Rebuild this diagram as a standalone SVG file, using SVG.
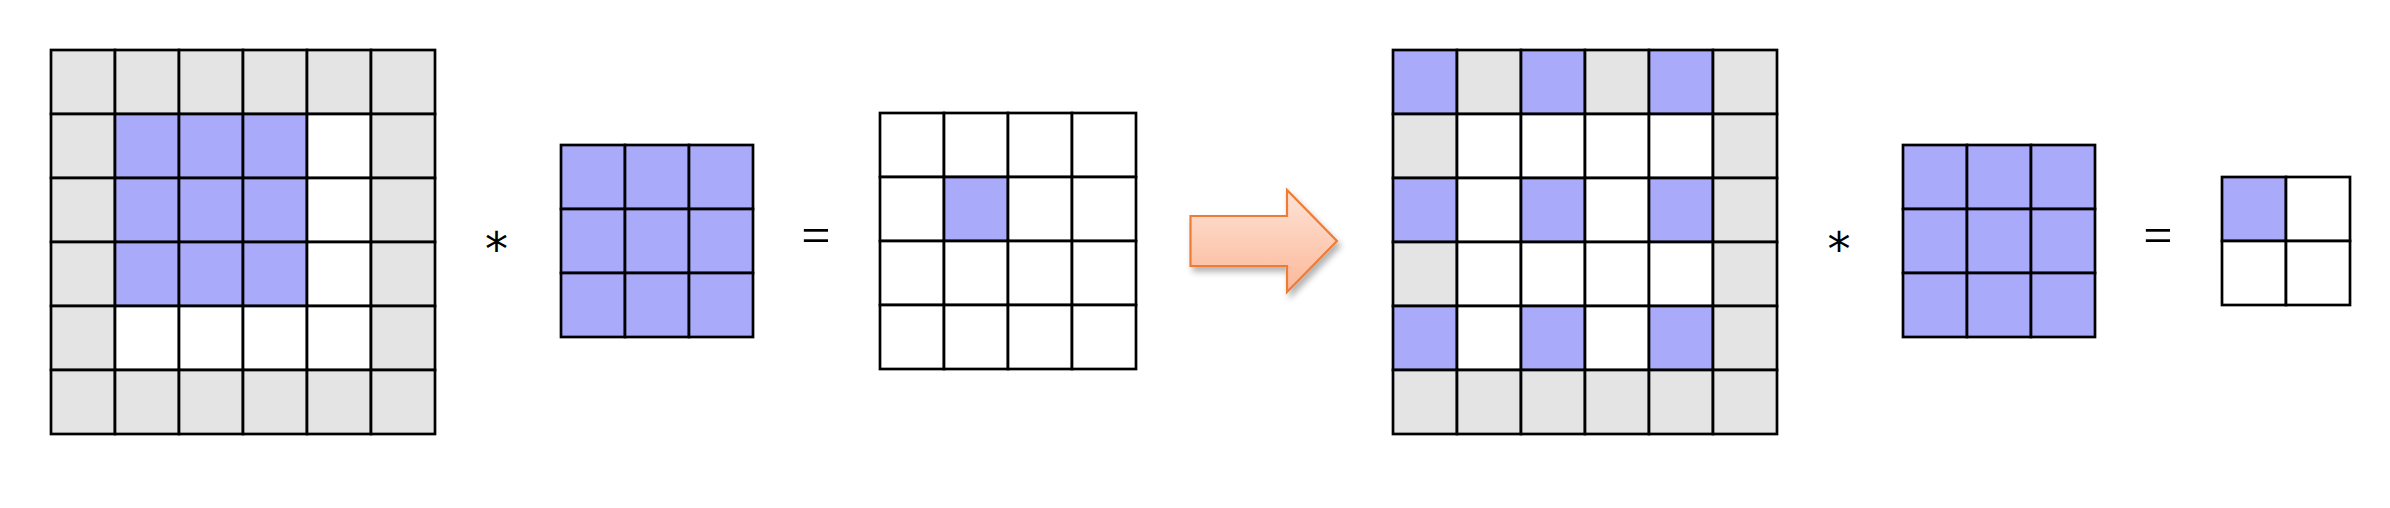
<svg xmlns="http://www.w3.org/2000/svg" width="2390" height="508" viewBox="0 0 2390 508">
<style>
rect{stroke:#000;stroke-width:2.7}
.g{fill:#e4e4e4}
.b{fill:#aaaafb}
.w{fill:#fff}
.mul{font-family:"DejaVu Sans",sans-serif;font-size:46px;fill:#000;text-anchor:middle}
.eq{font-family:"Liberation Serif",serif;font-size:52px;fill:#000;text-anchor:middle}
</style>
<defs>
<linearGradient id="ag" x1="0" y1="0" x2="0" y2="1">
<stop offset="0" stop-color="#fee3d6"/>
<stop offset="1" stop-color="#fbb899"/>
</linearGradient>
<filter id="sh" x="-20%" y="-20%" width="150%" height="150%">
<feGaussianBlur in="SourceAlpha" stdDeviation="3"/>
<feOffset dx="3" dy="5" result="o"/>
<feComponentTransfer><feFuncA type="linear" slope="0.3"/></feComponentTransfer>
<feMerge><feMergeNode/><feMergeNode in="SourceGraphic"/></feMerge>
</filter>
</defs>
<rect x="0" y="0" width="2390" height="508" style="fill:#fff;stroke:none"/>

<g id="input1" transform="translate(51,50)">
<rect class="g" x="0" y="0" width="64" height="64"/><rect class="g" x="64" y="0" width="64" height="64"/><rect class="g" x="128" y="0" width="64" height="64"/><rect class="g" x="192" y="0" width="64" height="64"/><rect class="g" x="256" y="0" width="64" height="64"/><rect class="g" x="320" y="0" width="64" height="64"/>
<rect class="g" x="0" y="64" width="64" height="64"/><rect class="b" x="64" y="64" width="64" height="64"/><rect class="b" x="128" y="64" width="64" height="64"/><rect class="b" x="192" y="64" width="64" height="64"/><rect class="w" x="256" y="64" width="64" height="64"/><rect class="g" x="320" y="64" width="64" height="64"/>
<rect class="g" x="0" y="128" width="64" height="64"/><rect class="b" x="64" y="128" width="64" height="64"/><rect class="b" x="128" y="128" width="64" height="64"/><rect class="b" x="192" y="128" width="64" height="64"/><rect class="w" x="256" y="128" width="64" height="64"/><rect class="g" x="320" y="128" width="64" height="64"/>
<rect class="g" x="0" y="192" width="64" height="64"/><rect class="b" x="64" y="192" width="64" height="64"/><rect class="b" x="128" y="192" width="64" height="64"/><rect class="b" x="192" y="192" width="64" height="64"/><rect class="w" x="256" y="192" width="64" height="64"/><rect class="g" x="320" y="192" width="64" height="64"/>
<rect class="g" x="0" y="256" width="64" height="64"/><rect class="w" x="64" y="256" width="64" height="64"/><rect class="w" x="128" y="256" width="64" height="64"/><rect class="w" x="192" y="256" width="64" height="64"/><rect class="w" x="256" y="256" width="64" height="64"/><rect class="g" x="320" y="256" width="64" height="64"/>
<rect class="g" x="0" y="320" width="64" height="64"/><rect class="g" x="64" y="320" width="64" height="64"/><rect class="g" x="128" y="320" width="64" height="64"/><rect class="g" x="192" y="320" width="64" height="64"/><rect class="g" x="256" y="320" width="64" height="64"/><rect class="g" x="320" y="320" width="64" height="64"/>
</g>

<g id="op-mul1"><text class="mul" x="496.5" y="265">*</text></g>

<g id="kernel1" transform="translate(561,145)">
<rect class="b" x="0" y="0" width="64" height="64"/><rect class="b" x="64" y="0" width="64" height="64"/><rect class="b" x="128" y="0" width="64" height="64"/>
<rect class="b" x="0" y="64" width="64" height="64"/><rect class="b" x="64" y="64" width="64" height="64"/><rect class="b" x="128" y="64" width="64" height="64"/>
<rect class="b" x="0" y="128" width="64" height="64"/><rect class="b" x="64" y="128" width="64" height="64"/><rect class="b" x="128" y="128" width="64" height="64"/>
</g>

<g id="op-eq1"><text class="eq" x="816" y="253">=</text></g>

<g id="output1" transform="translate(880,113)">
<rect class="w" x="0" y="0" width="64" height="64"/><rect class="w" x="64" y="0" width="64" height="64"/><rect class="w" x="128" y="0" width="64" height="64"/><rect class="w" x="192" y="0" width="64" height="64"/>
<rect class="w" x="0" y="64" width="64" height="64"/><rect class="b" x="64" y="64" width="64" height="64"/><rect class="w" x="128" y="64" width="64" height="64"/><rect class="w" x="192" y="64" width="64" height="64"/>
<rect class="w" x="0" y="128" width="64" height="64"/><rect class="w" x="64" y="128" width="64" height="64"/><rect class="w" x="128" y="128" width="64" height="64"/><rect class="w" x="192" y="128" width="64" height="64"/>
<rect class="w" x="0" y="192" width="64" height="64"/><rect class="w" x="64" y="192" width="64" height="64"/><rect class="w" x="128" y="192" width="64" height="64"/><rect class="w" x="192" y="192" width="64" height="64"/>
</g>

<g id="connectors">
<polygon points="1190.5,216 1287,216 1287,190 1337,241 1287,292 1287,266 1190.5,266" fill="url(#ag)" stroke="#ee7c35" stroke-width="2.2" stroke-linejoin="miter" filter="url(#sh)"/>
</g>

<g id="input2" transform="translate(1393,50)">
<rect class="b" x="0" y="0" width="64" height="64"/><rect class="g" x="64" y="0" width="64" height="64"/><rect class="b" x="128" y="0" width="64" height="64"/><rect class="g" x="192" y="0" width="64" height="64"/><rect class="b" x="256" y="0" width="64" height="64"/><rect class="g" x="320" y="0" width="64" height="64"/>
<rect class="g" x="0" y="64" width="64" height="64"/><rect class="w" x="64" y="64" width="64" height="64"/><rect class="w" x="128" y="64" width="64" height="64"/><rect class="w" x="192" y="64" width="64" height="64"/><rect class="w" x="256" y="64" width="64" height="64"/><rect class="g" x="320" y="64" width="64" height="64"/>
<rect class="b" x="0" y="128" width="64" height="64"/><rect class="w" x="64" y="128" width="64" height="64"/><rect class="b" x="128" y="128" width="64" height="64"/><rect class="w" x="192" y="128" width="64" height="64"/><rect class="b" x="256" y="128" width="64" height="64"/><rect class="g" x="320" y="128" width="64" height="64"/>
<rect class="g" x="0" y="192" width="64" height="64"/><rect class="w" x="64" y="192" width="64" height="64"/><rect class="w" x="128" y="192" width="64" height="64"/><rect class="w" x="192" y="192" width="64" height="64"/><rect class="w" x="256" y="192" width="64" height="64"/><rect class="g" x="320" y="192" width="64" height="64"/>
<rect class="b" x="0" y="256" width="64" height="64"/><rect class="w" x="64" y="256" width="64" height="64"/><rect class="b" x="128" y="256" width="64" height="64"/><rect class="w" x="192" y="256" width="64" height="64"/><rect class="b" x="256" y="256" width="64" height="64"/><rect class="g" x="320" y="256" width="64" height="64"/>
<rect class="g" x="0" y="320" width="64" height="64"/><rect class="g" x="64" y="320" width="64" height="64"/><rect class="g" x="128" y="320" width="64" height="64"/><rect class="g" x="192" y="320" width="64" height="64"/><rect class="g" x="256" y="320" width="64" height="64"/><rect class="g" x="320" y="320" width="64" height="64"/>
</g>

<g id="op-mul2"><text class="mul" x="1839" y="265">*</text></g>

<g id="kernel2" transform="translate(1903,145)">
<rect class="b" x="0" y="0" width="64" height="64"/><rect class="b" x="64" y="0" width="64" height="64"/><rect class="b" x="128" y="0" width="64" height="64"/>
<rect class="b" x="0" y="64" width="64" height="64"/><rect class="b" x="64" y="64" width="64" height="64"/><rect class="b" x="128" y="64" width="64" height="64"/>
<rect class="b" x="0" y="128" width="64" height="64"/><rect class="b" x="64" y="128" width="64" height="64"/><rect class="b" x="128" y="128" width="64" height="64"/>
</g>

<g id="op-eq2"><text class="eq" x="2158" y="253">=</text></g>

<g id="output2" transform="translate(2222,177)">
<rect class="b" x="0" y="0" width="64" height="64"/><rect class="w" x="64" y="0" width="64" height="64"/>
<rect class="w" x="0" y="64" width="64" height="64"/><rect class="w" x="64" y="64" width="64" height="64"/>
</g>
</svg>
